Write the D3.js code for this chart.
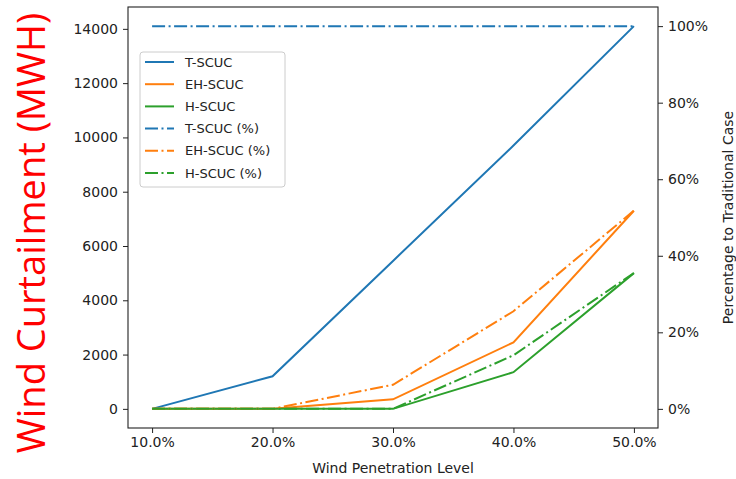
<!DOCTYPE html>
<html>
<head>
<meta charset="utf-8">
<script src="https://cdn.jsdelivr.net/npm/d3@7"></script>
<style>
  body { margin: 0; background: #fff; }
  svg text { font-family: "DejaVu Sans", sans-serif; fill: #222; }
</style>
</head>
<body>
<svg id="chart" width="736" height="479"></svg>
<script>
// wind penetration levels (%)
var levels = [10, 20, 30, 40, 50];
// curtailment (MWH)
var tScuc = [0, 1200, 5450, 9700, 14100];
var ehScuc = [0, 0, 350, 2450, 7300];
var hScuc = [0, 0, 0, 1350, 5000];
// percentage to traditional case
var tPct = [100, 100, 100, 100, 100];
var ehPct = [0, 0, 6.3, 25.5, 51.8];
var hPct = [0, 0, 0, 14, 35.5];

var leftTicks = [0, 2000, 4000, 6000, 8000, 10000, 12000, 14000];
var rightTicks = [0, 20, 40, 60, 80, 100];

var svg = d3.select("#chart");
// plot box (top is a reserved window name, so prefix everything)
var pLeft = 128, pRight = 658, pTop = 7, pBottom = 428;

var x = d3.scaleLinear().domain([8, 52]).range([pLeft, pRight]);
var yL = d3.scaleLinear().domain([-705, 14805]).range([pBottom, pTop]);
var yR = d3.scaleLinear().domain([-5, 105]).range([pBottom, pTop]);

var blue = "#1f77b4", orange = "#ff7f0e", green = "#2ca02c";
var dashdot = "13,3.5,2,3.5";

// axes
var xAxis = svg.append("g").attr("transform", "translate(0," + pBottom + ")")
  .call(d3.axisBottom(x).tickValues(levels).tickSize(5).tickPadding(4)
    .tickFormat(function(d) { return d.toFixed(1) + "%"; }));
var lAxis = svg.append("g").attr("transform", "translate(" + pLeft + ",0)")
  .call(d3.axisLeft(yL).tickValues(leftTicks).tickSize(5).tickPadding(5)
    .tickFormat(function(d) { return d; }));
var rAxis = svg.append("g").attr("transform", "translate(" + pRight + ",0)")
  .call(d3.axisRight(yR).tickValues(rightTicks).tickSize(5).tickPadding(5)
    .tickFormat(function(d) { return d + "%"; }));
[xAxis, lAxis, rAxis].forEach(function(a) {
  a.select(".domain").remove();
  a.selectAll("line").attr("stroke", "#222").attr("stroke-width", 1);
  a.selectAll("text").style("font-size", "14px").attr("fill", "#222");
});

// frame
svg.append("rect")
  .attr("x", pLeft).attr("y", pTop)
  .attr("width", pRight - pLeft).attr("height", pBottom - pTop)
  .attr("fill", "none").attr("stroke", "#222").attr("stroke-width", 1.1);

var lineL = d3.line().x(function(d, i) { return x(levels[i]); }).y(function(d) { return yL(d); });
var lineR = d3.line().x(function(d, i) { return x(levels[i]); }).y(function(d) { return yR(d); });

var series = [
  { name: "T-SCUC", vals: tScuc, color: blue, gen: lineL, dash: null },
  { name: "EH-SCUC", vals: ehScuc, color: orange, gen: lineL, dash: null },
  { name: "H-SCUC", vals: hScuc, color: green, gen: lineL, dash: null },
  { name: "T-SCUC (%)", vals: tPct, color: blue, gen: lineR, dash: dashdot },
  { name: "EH-SCUC (%)", vals: ehPct, color: orange, gen: lineR, dash: dashdot },
  { name: "H-SCUC (%)", vals: hPct, color: green, gen: lineR, dash: dashdot }
];

series.forEach(function(s) {
  svg.append("path")
    .attr("d", s.gen(s.vals))
    .attr("fill", "none")
    .attr("stroke", s.color)
    .attr("stroke-width", 2)
    .attr("stroke-dasharray", s.dash);
});

// legend
var lg = svg.append("g").attr("transform", "translate(140,52)");
lg.append("rect").attr("width", 145).attr("height", 135).attr("rx", 3)
  .attr("fill", "#fff").attr("fill-opacity", 0.8)
  .attr("stroke", "#ccc").attr("stroke-width", 1);
series.forEach(function(s, i) {
  var yy = 10 + i * 22.2;
  lg.append("line").attr("x1", 5).attr("x2", 34).attr("y1", yy).attr("y2", yy)
    .attr("stroke", s.color).attr("stroke-width", 2)
    .attr("stroke-dasharray", s.dash);
  lg.append("text").attr("x", 45).attr("y", yy).attr("dy", "0.35em")
    .style("font-size", "13px").text(s.name);
});

// axis labels
svg.append("text")
  .attr("x", (pLeft + pRight) / 2).attr("y", 473)
  .attr("text-anchor", "middle").style("font-size", "14px")
  .text("Wind Penetration Level");

svg.append("text")
  .attr("transform", "translate(45,233) rotate(-90)")
  .attr("text-anchor", "middle")
  .style("font-family", "'Open Sans', sans-serif")
  .style("font-size", "38px").style("fill", "red")
  .text("Wind Curtailment (MWH)");

svg.append("text")
  .attr("transform", "translate(733," + (pTop + pBottom) / 2 + ") rotate(-90)")
  .attr("text-anchor", "middle").style("font-size", "14px")
  .text("Percentage to Traditional Case");
</script>
</body>
</html>
